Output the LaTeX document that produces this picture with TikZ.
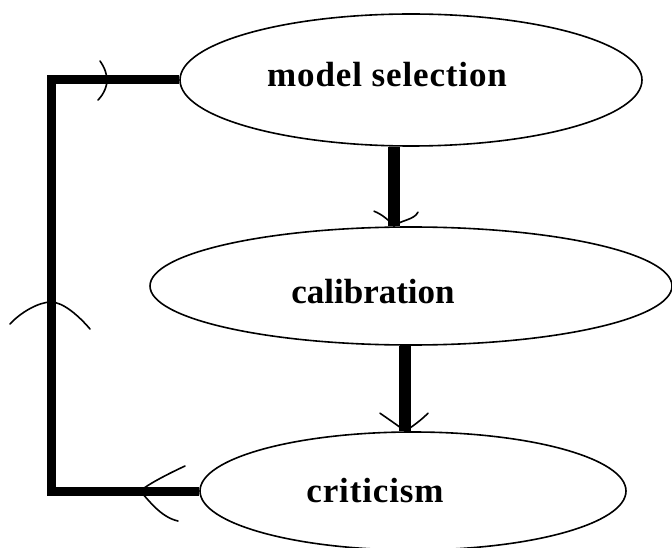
\documentclass[tikz,border=0pt]{standalone}
\usepackage{fontspec}
\setmainfont{Liberation Serif}
\usetikzlibrary{shapes.geometric,calc}
\begin{document}
\begin{tikzpicture}[x=1pt,y=-1pt,
  ell/.style={draw, ellipse, line width=1.6pt, inner sep=0pt},
  lbl/.style={anchor=base, font=\fontsize{35}{40}\selectfont\bfseries, inner sep=0pt},
  wide/.style={font=\fontsize{35}{40}\selectfont\bfseries\addfontfeature{LetterSpace=2.5}},
  loopline/.style={line width=9pt, line join=miter},
  flow/.style={line width=12pt},
  barb/.style={line width=1.6pt, line cap=round}]
\useasboundingbox (0,0) rectangle (672,548);
% ellipses
\node[ell, minimum width=462pt, minimum height=132pt] (ms) at (411,80) {};
\node[ell, minimum width=522pt, minimum height=118pt] (cal) at (411,286) {};
\node[ell, minimum width=426pt, minimum height=118pt] (cri) at (413,491) {};
% texts
\node[lbl, wide] (mst) at (387,87) {model selection};
\node[lbl] (calt) at (373,303) {calibration};
\node[lbl, wide] (crit) at (375,502) {criticism};
% flow arrows
\coordinate (t1) at ([xshift=-17pt]cal.north);
\coordinate (t2) at ([xshift=-8pt]cri.north);
\draw[flow] ([xshift=-17pt]ms.south) -- (t1);
\draw[flow] ([xshift=-6pt]cal.south) -- (t2);
\draw[barb] ($(t1)+(-20,-15)$) .. controls ($(t1)+(-12,-12)$) and ($(t1)+(-4,-5)$) .. (t1)
  .. controls ($(t1)+(6,-6)$) and ($(t1)+(20,-6)$) .. ($(t1)+(24,-14)$);
\draw[barb] ($(t2)+(-25,-18)$) .. controls ($(t2)+(-15,-11)$) and ($(t2)+(-6,-5)$) .. (t2)
  .. controls ($(t2)+(8,-5)$) and ($(t2)+(16,-11)$) .. ($(t2)+(23,-18)$);
% feedback loop
\coordinate (c1) at (51,491);
\coordinate (c2) at (51,80);
\draw[loopline] (cri.west) -- (c1) -- (c2) -- (ms.west);
\coordinate (t3) at (107,80);
\coordinate (t4) at (51,302);
\coordinate (t5) at (140,491);
\draw[barb] ($(t3)+(-7,-19)$) .. controls ($(t3)+(-2,-12)$) and ($(t3)+(0,-5)$) .. (t3)
  .. controls ($(t3)+(0,6)$) and ($(t3)+(-3,14)$) .. ($(t3)+(-9,20)$);
\draw[barb] ($(t4)+(-41,22)$) .. controls ($(t4)+(-30,10)$) and ($(t4)+(-12,0)$) .. (t4)
  .. controls ($(t4)+(12,0)$) and ($(t4)+(28,14)$) .. ($(t4)+(39,27)$);
\draw[barb] ($(t5)+(45,-25)$) .. controls ($(t5)+(30,-18)$) and ($(t5)+(10,-8)$) .. (t5)
  .. controls ($(t5)+(8,8)$) and ($(t5)+(20,26)$) .. ($(t5)+(38,30)$);
\end{tikzpicture}
\end{document}
